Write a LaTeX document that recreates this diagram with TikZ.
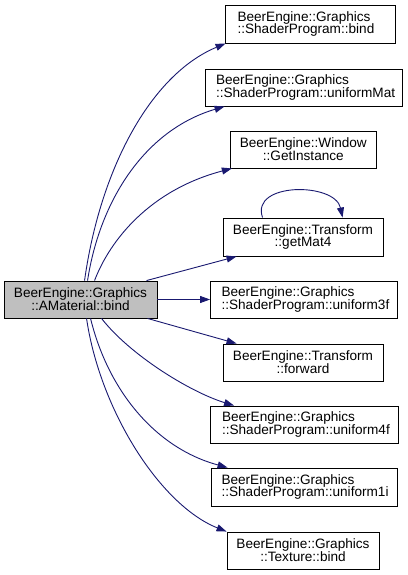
\documentclass[tikz,border=0pt]{standalone}
\usepackage{fontspec}
\setmainfont{Liberation Sans}
\usetikzlibrary{arrows.meta,calc}
\definecolor{edgeblue}{RGB}{25,25,112}
\definecolor{mgray}{RGB}{191,191,191}
\newcommand{\tightlines}{\lineskiplimit=-20pt\relax}
\tikzset{
  box/.style={draw=black, line width=0.9pt, fill=white, inner sep=0pt,
    font=\fontsize{13.6}{12.8}\selectfont\tightlines, minimum height=37pt},
  cbox/.style={box, align=center},
  lbox/.style={box, align=left, text width=#1},
  call/.style={draw=edgeblue, line width=0.9pt, -{Triangle[length=10pt,width=7pt]}}
}
\begin{document}
\begin{tikzpicture}[x=1pt,y=-1pt]
\useasboundingbox (0,0) rectangle (407,575);
\node[cbox, fill=mgray, minimum width=153pt] (main) at (80.5,299.5) {BeerEngine::Graphics\\::AMaterial::bind};
\node[lbox=145pt, minimum width=170pt, minimum height=38pt] (b1) at (310,24) {BeerEngine::Graphics\\::ShaderProgram::bind};
\node[lbox=175pt, minimum width=197pt] (b2) at (303.5,87.5) {BeerEngine::Graphics\\::ShaderProgram::uniformMat};
\node[cbox, minimum width=146pt] (b3) at (303.3,149.5) {BeerEngine::Window\\::GetInstance};
\node[cbox, minimum width=160pt, minimum height=38pt] (b4) at (303,237) {BeerEngine::Transform\\::getMat4};
\node[lbox=165pt, minimum width=187pt] (b5) at (304,299.5) {BeerEngine::Graphics\\::ShaderProgram::uniform3f};
\node[cbox, minimum width=160pt] (b6) at (303,362.5) {BeerEngine::Transform\\::forward};
\node[lbox=165pt, minimum width=188pt] (b7) at (304.5,424.5) {BeerEngine::Graphics\\::ShaderProgram::uniform4f};
\node[lbox=165pt, minimum width=186pt, minimum height=38pt] (b8) at (304,487) {BeerEngine::Graphics\\::ShaderProgram::uniform1i};
\node[cbox, minimum width=152pt] (b9) at (303,550.5) {BeerEngine::Graphics\\::Texture::bind};

% edges
\draw[call] ($(main.north west)+(81,0)$) .. controls (100,170) and (150,75) .. ($(b1.south west)+(1,0)$);
\draw[call] ($(main.north west)+(84,0)$) .. controls (100,200) and (145,130) .. ($(b2.south west)+(20,0)$);
\draw[call] ($(main.north west)+(91,0)$) .. controls (110,240) and (150,190) .. ($(b3.south west)+(2,0)$);
\draw[call] ($(main.north west)+(143,0)$) -- ($(b4.south west)+(14,0)$);
\draw[call] (main.east) -- (b5.west);
\draw[call] ($(main.south west)+(144,0)$) -- ($(b6.north west)+(14,0)$);
\draw[call] ($(main.south west)+(98,0)$) .. controls (130,355) and (190,392) .. ($(b7.north west)+(24,0)$);
\draw[call] ($(main.south west)+(87,0)$) .. controls (108,390) and (155,448) .. ($(b8.north west)+(17,0)$);
\draw[call] ($(main.south west)+(83,0)$) .. controls (100,410) and (160,505) .. ($(b9.north west)+(0,0)$);
% self loop
\draw[call] ($(b4.north west)+(40,0)$) .. controls (250,182) and (335,182) .. ($(b4.north west)+(120,0)$);
\end{tikzpicture}
\end{document}
